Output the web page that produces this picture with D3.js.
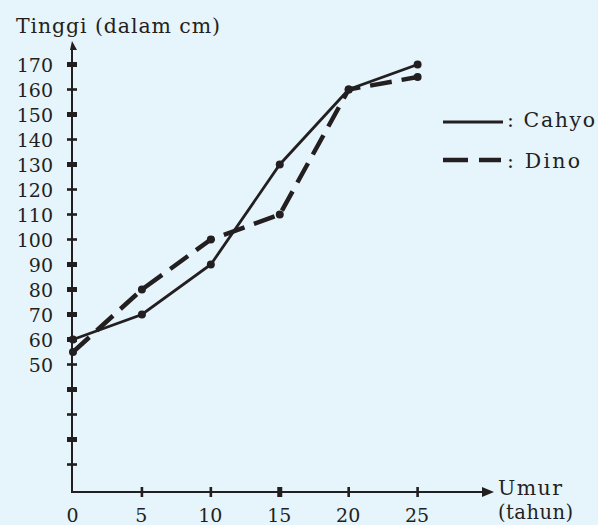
<!DOCTYPE html>
<html>
<head>
<meta charset="utf-8">
<script src="https://cdn.jsdelivr.net/npm/d3@7"></script>
<style>
  html, body { margin: 0; padding: 0; background: #e6f4fb; }
  svg { display: block; }
  text { font-family: "DejaVu Serif", serif; fill: #231f20; }
</style>
</head>
<body>
<svg id="chart" width="598" height="525"></svg>
<script>
// ---- data ----
const ages = [0, 5, 10, 15, 20, 25];
const cahyo = [60, 70, 90, 130, 160, 170];
const dino = [55, 80, 100, 110, 160, 165];
const xTickLabels = ["0", "5", "10", "15", "20", "25"];
const yTickValues = [10, 20, 30, 40, 50, 60, 70, 80, 90, 100, 110, 120, 130, 140, 150, 160, 170];
const yLabelled = [50, 60, 70, 80, 90, 100, 110, 120, 130, 140, 150, 160, 170];
const seriesNames = ["Cahyo", "Dino"];

const ink = "#231f20";
const svg = d3.select("#chart");
svg.append("rect").attr("width", 598).attr("height", 525).attr("fill", "#e6f4fb");

const x = d3.scaleLinear().domain([0, 25]).range([73, 417.6]);
const y = d3.scaleLinear().domain([0, 170]).range([489.5, 64.5]);
const axisX0 = 72, axisY0 = 492;

// axes lines
svg.append("line").attr("x1", axisX0).attr("x2", axisX0).attr("y1", axisY0).attr("y2", 48)
  .attr("stroke", ink).attr("stroke-width", 2);
svg.append("path").attr("d", `M${axisX0},41 L${axisX0 + 5},50 L${axisX0 - 2},50 Z`).attr("fill", ink);
svg.append("line").attr("x1", axisX0 - 1).attr("x2", 485).attr("y1", axisY0).attr("y2", axisY0)
  .attr("stroke", ink).attr("stroke-width", 2);
svg.append("path").attr("d", `M494,${axisY0} L482,${axisY0 - 5} L482,${axisY0 + 5} Z`).attr("fill", ink);

// y axis labels via d3 axis
const yAxis = d3.axisLeft(y).tickValues(yLabelled).tickSize(0).tickPadding(0).tickFormat(d3.format("d"));
const gy = svg.append("g").attr("transform", `translate(53,0)`).call(yAxis);
gy.select(".domain").remove();
gy.selectAll("text").style("font-size", "19px").attr("fill", ink).attr("dy", "0.36em");

// y tick marks (thick / thin alternation as in reference)
const thickY = new Set([170, 150, 130, 90, 80, 70, 60, 40, 20]);
svg.selectAll("rect.yt").data(yTickValues).join("rect").attr("class", "yt")
  .attr("x", axisX0 - 5).attr("width", 10)
  .attr("y", d => y(d) - (thickY.has(d) ? 2.5 : 1.3))
  .attr("height", d => thickY.has(d) ? 5 : 2.6)
  .attr("fill", ink);

// x axis labels via d3 axis
const xAxis = d3.axisBottom(x).tickValues(ages).tickSize(0).tickPadding(0).tickFormat((d, i) => xTickLabels[i]);
const gx = svg.append("g").attr("transform", `translate(-1,${axisY0})`).call(xAxis);
gx.select(".domain").remove();
gx.selectAll("text").style("font-size", "19px").attr("fill", ink).attr("dy", null).attr("y", 30);

// x tick marks
const thickX = new Set([15]);
svg.selectAll("rect.xt").data(ages.filter(a => a > 0)).join("rect").attr("class", "xt")
  .attr("x", d => x(d) - (thickX.has(d) ? 2.5 : 1.3))
  .attr("width", d => thickX.has(d) ? 5 : 2.6)
  .attr("y", axisY0 - 5).attr("height", 10).attr("fill", ink);

// lines
const line = d3.line().x(d => x(d[0])).y(d => y(d[1]));
const cahyoPts = ages.map((a, i) => [a, cahyo[i]]);
const dinoPts = ages.map((a, i) => [a, dino[i]]);

svg.append("path").datum(dinoPts).attr("d", line).attr("fill", "none")
  .attr("stroke", ink).attr("stroke-width", 4.5).attr("stroke-dasharray", "22,10");
svg.append("path").datum(cahyoPts).attr("d", line).attr("fill", "none")
  .attr("stroke", ink).attr("stroke-width", 2.8);

// markers
svg.selectAll("circle.c").data(cahyoPts).join("circle").attr("class", "c")
  .attr("cx", d => x(d[0])).attr("cy", d => y(d[1])).attr("r", 4).attr("fill", ink);
svg.selectAll("circle.d").data(dinoPts).join("circle").attr("class", "d")
  .attr("cx", d => x(d[0])).attr("cy", d => y(d[1])).attr("r", 4).attr("fill", ink);

// titles
function txt(s, tx, ty, len, size) {
  const t = svg.append("text").attr("x", tx).attr("y", ty).style("font-size", (size || 20) + "px").text(s);
  if (len) t.attr("textLength", len).attr("lengthAdjust", "spacing");
  return t;
}
txt("Tinggi (dalam cm)", 16, 33, 204, 20.5);
txt("Umur", 498, 495, 64, 20.5);
txt("(tahun)", 498, 519, 75, 19.5);

// legend
svg.append("line").attr("x1", 443).attr("x2", 503).attr("y1", 122).attr("y2", 122)
  .attr("stroke", ink).attr("stroke-width", 2.8);
svg.append("line").attr("x1", 443).attr("x2", 501).attr("y1", 160).attr("y2", 160)
  .attr("stroke", ink).attr("stroke-width", 4.5).attr("stroke-dasharray", "25,11");
txt(": " + seriesNames[0], 507, 127, 88, 20.5);
txt(": " + seriesNames[1], 507, 168, 73, 20.5);
</script>
</body>
</html>
